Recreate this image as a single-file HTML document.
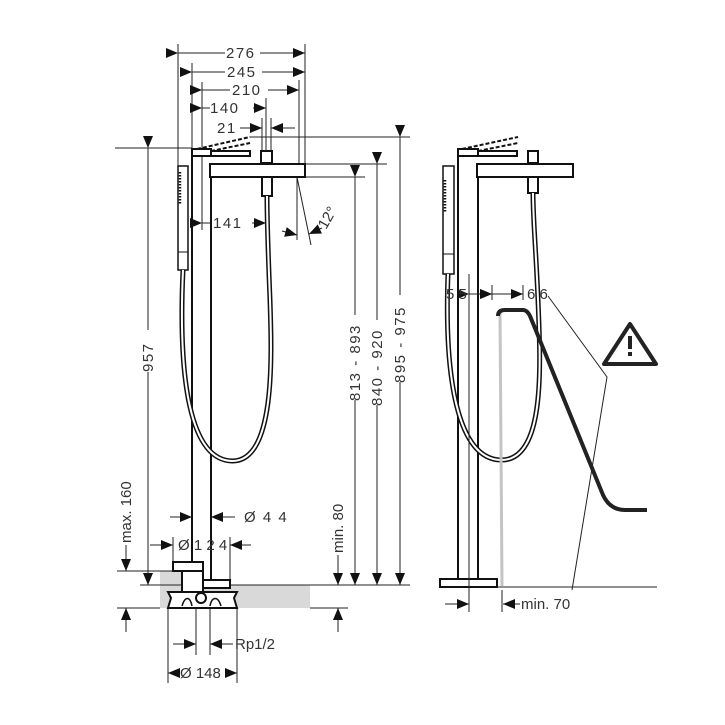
<!DOCTYPE html>
<html><head><meta charset="utf-8"><style>
html,body{margin:0;padding:0;background:#fff;}
svg{display:block;font-family:"Liberation Sans","DejaVu Sans",sans-serif;}
</style></head><body>
<svg width="725" height="725" viewBox="0 0 725 725" xmlns="http://www.w3.org/2000/svg">
<defs>
<marker id="a" viewBox="0 0 12 10" refX="12" refY="5" markerWidth="12" markerHeight="10" markerUnits="userSpaceOnUse" orient="auto"><path d="M0,0 L12,5 L0,10 z" fill="#111"/></marker>
</defs>
<rect width="725" height="725" fill="#fff"/>
<rect x="160" y="585" width="150" height="23" fill="#d9d9d9"/>
<rect x="160" y="571" width="22" height="14" fill="#d9d9d9"/>

<g stroke="#222" stroke-width="1" fill="none">
<line x1="178" y1="44" x2="178" y2="166"/>
<line x1="305" y1="44" x2="305" y2="164"/>
<line x1="192" y1="63" x2="192" y2="148"/>
<line x1="202" y1="82" x2="202" y2="230"/>
<line x1="299" y1="80" x2="299" y2="170"/>
<line x1="266" y1="98" x2="266" y2="151"/>
<line x1="262" y1="118" x2="262" y2="151"/>
<line x1="271" y1="118" x2="271" y2="151"/>
<line x1="178" y1="53" x2="225" y2="53" marker-start="url(#a)"/><line x1="260" y1="53" x2="305" y2="53" marker-end="url(#a)"/>
<line x1="192" y1="72" x2="225" y2="72" marker-start="url(#a)"/><line x1="262" y1="72" x2="305" y2="72" marker-end="url(#a)"/>
<line x1="202" y1="90" x2="230" y2="90" marker-start="url(#a)"/><line x1="268" y1="90" x2="299" y2="90" marker-end="url(#a)"/>
<line x1="202" y1="108" x2="210" y2="108" marker-start="url(#a)"/><line x1="253" y1="108" x2="266" y2="108" marker-end="url(#a)"/>
<line x1="240" y1="128" x2="262" y2="128" marker-end="url(#a)"/><line x1="295" y1="128" x2="271" y2="128" marker-end="url(#a)"/>
<line x1="115" y1="148" x2="192" y2="148"/>
<line x1="250" y1="137" x2="410" y2="137"/>
<line x1="305" y1="164" x2="387" y2="164"/>
<line x1="305" y1="177" x2="365" y2="177"/>
<line x1="148" y1="148" x2="148" y2="330" marker-start="url(#a)"/><line x1="148" y1="372" x2="148" y2="585" marker-end="url(#a)"/>
<line x1="355" y1="177" x2="355" y2="315" marker-start="url(#a)"/><line x1="355" y1="400" x2="355" y2="585" marker-end="url(#a)"/>
<line x1="377" y1="164" x2="377" y2="320" marker-start="url(#a)"/><line x1="377" y1="405" x2="377" y2="585" marker-end="url(#a)"/>
<line x1="400" y1="137" x2="400" y2="295" marker-start="url(#a)"/><line x1="400" y1="382" x2="400" y2="585" marker-end="url(#a)"/>
<line x1="140" y1="585" x2="410" y2="585"/>
<line x1="117" y1="571" x2="175" y2="571"/>
<line x1="126" y1="545" x2="126" y2="571" marker-end="url(#a)"/>
<line x1="338" y1="555" x2="338" y2="585" marker-end="url(#a)"/>
<line x1="117" y1="608" x2="160" y2="608"/>
<line x1="310" y1="608" x2="348" y2="608"/>
<line x1="126" y1="632" x2="126" y2="608" marker-end="url(#a)"/>
<line x1="338" y1="632" x2="338" y2="608" marker-end="url(#a)"/>
<line x1="202" y1="223" x2="212" y2="223" marker-start="url(#a)"/><line x1="252" y1="223" x2="266" y2="223" marker-end="url(#a)"/>
<line x1="297" y1="177" x2="297" y2="240"/>
<line x1="297" y1="177" x2="311" y2="245"/>
<line x1="282" y1="231" x2="297" y2="235" marker-end="url(#a)"/>
<line x1="322" y1="228" x2="309" y2="234" marker-end="url(#a)"/>
<line x1="170" y1="517" x2="192" y2="517" marker-end="url(#a)"/><line x1="235" y1="517" x2="211" y2="517" marker-end="url(#a)"/>
<line x1="150" y1="545" x2="173" y2="545" marker-end="url(#a)"/><line x1="251" y1="545" x2="230" y2="545" marker-end="url(#a)"/>
<line x1="173" y1="537" x2="173" y2="562"/><line x1="230" y1="537" x2="230" y2="580"/>
<line x1="168" y1="608" x2="168" y2="683"/><line x1="237" y1="608" x2="237" y2="683"/>
<line x1="196" y1="608" x2="196" y2="655"/><line x1="210" y1="608" x2="210" y2="655"/>
<line x1="173" y1="644" x2="196" y2="644" marker-end="url(#a)"/><line x1="233" y1="644" x2="210" y2="644" marker-end="url(#a)"/>
<line x1="180" y1="673" x2="168" y2="673" marker-end="url(#a)"/><line x1="225" y1="673" x2="237" y2="673" marker-end="url(#a)"/>
</g>

<g stroke="#111" fill="none" stroke-width="2">
<line x1="192" y1="152" x2="192" y2="562"/>
<line x1="211" y1="177" x2="211" y2="580"/>
<rect x="192" y="149" width="19" height="7" fill="#fff"/>
<rect x="211" y="151" width="39" height="5"/>
<path d="M197,149 L250,137" stroke-dasharray="4,2"/>
<path d="M211,151 L250,143" stroke-dasharray="4,2"/>
<rect x="210" y="164" width="95" height="13" fill="#fff"/>
<rect x="261" y="151" width="11" height="12"/>
<rect x="262" y="177" width="10" height="19"/>
<rect x="178" y="166" width="10" height="104" stroke-width="1.5"/>
<line x1="178" y1="252" x2="188" y2="252" stroke-width="1"/>
<line x1="180" y1="172" x2="180" y2="205" stroke-width="2.5" stroke-dasharray="1.5,1.5"/>
<path d="M183,270 C178,380 190,460 232,461 C275,462 272,360 270,300 C268,250 267,220 267,196" stroke-width="5"/>
<path d="M183,270 C178,380 190,460 232,461 C275,462 272,360 270,300 C268,250 267,220 267,196" stroke="#fff" stroke-width="2"/>
<rect x="173" y="562" width="30" height="9" fill="#fff"/>
<rect x="182" y="571" width="21" height="25" fill="#fff"/>
<rect x="203" y="580" width="27" height="8" fill="#fff"/>
<path d="M168,592 L237,592 L234,598 L237,608 L168,608 L171,598 Z" fill="#fff"/>
<circle cx="201" cy="598" r="5" fill="#fff"/>
<path d="M182,606 C185,596 190,596 192,606 M210,606 C212,596 218,596 221,606" stroke-width="1.5"/>
</g>

<g stroke="#111" fill="none" stroke-width="2">
<line x1="458" y1="152" x2="458" y2="580"/>
<line x1="478" y1="177" x2="478" y2="580"/>
<rect x="458" y="149" width="20" height="7" fill="#fff"/>
<rect x="478" y="151" width="39" height="5"/>
<path d="M462,149 L518,137" stroke-dasharray="4,2"/>
<path d="M478,151 L518,143" stroke-dasharray="4,2"/>
<rect x="477" y="164" width="96" height="13" fill="#fff"/>
<rect x="528" y="151" width="10" height="12"/>
<rect x="528" y="177" width="10" height="16"/>
<rect x="443" y="166" width="11" height="108" stroke-width="1.5"/>
<line x1="443" y1="254" x2="454" y2="254" stroke-width="1"/>
<line x1="445" y1="180" x2="445" y2="212" stroke-width="2.5" stroke-dasharray="1.5,1.5"/>
<path d="M448,274 C444,380 458,458 500,460 C545,462 541,370 538,300 C536,250 533,220 533,193" stroke-width="5"/>
<path d="M448,274 C444,380 458,458 500,460 C545,462 541,370 538,300 C536,250 533,220 533,193" stroke="#fff" stroke-width="2"/>
<rect x="440" y="579" width="57" height="8" fill="#fff"/>
</g>
<line x1="500" y1="312" x2="502" y2="586" stroke="#c4c4c4" stroke-width="3"/>
<path d="M498,316 Q498,310 505,310 L523,310 Q527,310 530,316 L603,495 Q610,510 625,510 L647,510" stroke="#222" stroke-width="4" fill="none"/>
<g stroke="#222" stroke-width="1" fill="none">
<line x1="497" y1="587" x2="657" y2="587"/>
<line x1="469" y1="274" x2="469" y2="612"/>
<line x1="492" y1="285" x2="492" y2="300"/>
<line x1="523" y1="285" x2="523" y2="300"/>
<line x1="469" y1="294" x2="492" y2="294" marker-start="url(#a)" marker-end="url(#a)"/>
<line x1="492" y1="294" x2="523" y2="294" marker-start="url(#a)" marker-end="url(#a)"/>
<path d="M548,296 L607,377 L572,590"/>
<line x1="445" y1="604" x2="469" y2="604" marker-end="url(#a)"/>
<line x1="520" y1="604" x2="503" y2="604" marker-end="url(#a)"/>
<line x1="502" y1="590" x2="502" y2="612"/>
</g>
<path d="M630,324 L656,364 L604,364 Z" fill="none" stroke="#222" stroke-width="4" stroke-linejoin="round"/>
<rect x="628" y="336" width="4" height="13" fill="#222"/><rect x="628" y="352" width="4" height="4" fill="#222"/>

<g fill="#333" font-size="15" letter-spacing="1.5">
<text x="226" y="58">276</text>
<text x="227" y="77">245</text>
<text x="232" y="95">210</text>
<text x="210" y="113">140</text>
<text x="217" y="133">21</text>
<text x="213" y="228">141</text>
<text x="244" y="522">Ø 4 4</text>
<text x="178" y="550" letter-spacing="0">Ø 1 2 4</text>
<text x="235" y="649" letter-spacing="0">Rp1/2</text>
<text x="180" y="678" letter-spacing="0">Ø 148</text>
<text x="446" y="299" letter-spacing="0">5 5</text>
<text x="527" y="299" letter-spacing="0">6 6</text>
<text x="521" y="609" letter-spacing="0">min. 70</text>
<text transform="translate(153,372) rotate(-90)">957</text>
<text transform="translate(360,401) rotate(-90)">813 - 893</text>
<text transform="translate(382,406) rotate(-90)">840 - 920</text>
<text transform="translate(405,383) rotate(-90)">895 - 975</text>
<text transform="translate(131,543) rotate(-90)" letter-spacing="0">max. 160</text>
<text transform="translate(343,553) rotate(-90)" letter-spacing="0">min. 80</text>
<text transform="translate(326,230) rotate(-60)" letter-spacing="0">12°</text>
</g>
</svg>
</body></html>
